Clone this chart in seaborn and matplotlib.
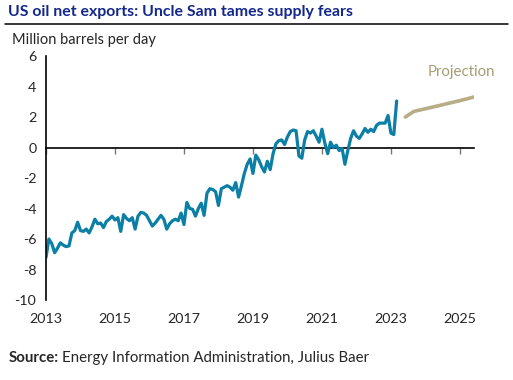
import matplotlib
matplotlib.use("Agg")
import matplotlib.pyplot as plt
import numpy as np
import pandas as pd
import seaborn as sns

# Monthly US oil net exports, Jan 2013 - Mar 2023 (million barrels per day)
net_exports = [
    -7.2, -6.0, -6.3, -6.9, -6.6, -6.25, -6.4, -6.5, -6.45, -5.6, -5.45, -4.9,
    -5.45, -5.5, -5.35, -5.6, -5.2, -4.7, -5.0, -4.95, -5.25, -4.85, -4.7, -4.5,
    -4.75, -4.6, -5.5, -4.4, -4.65, -4.8, -4.6, -5.35, -4.5, -4.25, -4.3, -4.45,
    -4.8, -5.15, -4.95, -4.7, -4.45, -4.7, -5.35, -5.0, -4.8, -4.7, -4.8, -4.3,
    -5.05, -3.6, -4.0, -4.05, -4.5, -4.0, -3.65, -4.45, -3.0, -2.7, -2.75, -2.9,
    -3.8, -2.7, -2.6, -2.5, -2.6, -2.8, -2.3, -3.25, -2.5, -1.7, -1.1, -0.75,
    -1.7, -0.5, -0.8, -1.25, -1.6, -0.9, -1.45, -0.4, 0.25, 0.45, 0.5, 0.2,
    0.7, 1.05, 1.15, 1.1, -0.55, -0.7, 0.5, 1.05, 0.95, 1.1, 0.75, 0.35,
    1.2, 0.3, -0.4, 0.35, 0.0, 0.15, -0.2, -0.05, -1.1, -0.2, 0.6, 1.1,
    0.75, 0.6, 0.9, 1.25, 1.0, 1.2, 1.05, 1.45, 1.6, 1.6, 1.6, 2.1,
    0.95, 0.85, 3.05,
]
# Projection, quarterly from Jun 2023
projection = [2.0, 2.37, 2.5, 2.63, 2.76, 2.9, 3.03, 3.17, 3.32]

hist = pd.DataFrame({
    "year": 2013 + np.arange(len(net_exports)) / 12,
    "value": net_exports,
})
proj = pd.DataFrame({
    "year": 2023 + 5 / 12 + np.arange(len(projection)) * 3 / 12,
    "value": projection,
})

year_ticks = [2013, 2015, 2017, 2019, 2021, 2023, 2025]
value_ticks = [6, 4, 2, 0, -2, -4, -6, -8, -10]

sns.set_style("white")
plt.rcParams["font.family"] = ["Lato", "DejaVu Sans"]

fig = plt.figure(figsize=(5.13, 3.8), dpi=100)
ax = fig.add_axes([0.0897, 0.2105, 0.835, 0.642])

sns.lineplot(data=hist, x="year", y="value", ax=ax, color="#0b7fa5", lw=2.3)
sns.lineplot(data=proj, x="year", y="value", ax=ax, color="#b8ad87", lw=2.6)

ax.set_xlim(2013, 2025.42)
ax.set_ylim(-10, 6)
ax.set_xticks(year_ticks)
ax.set_xticklabels([str(y) for y in year_ticks], fontsize=10.3)
ax.set_yticks(value_ticks)
ax.set_yticklabels([str(v) for v in value_ticks], fontsize=10.3)
ax.tick_params(axis="x", length=0, pad=9)
ax.tick_params(axis="y", length=4, width=1, color="black", direction="out", pad=3)
for side in ["top", "right", "bottom"]:
    ax.spines[side].set_visible(False)
ax.spines["left"].set_color("black")
ax.spines["left"].set_linewidth(1.2)
ax.set_xlabel("")
ax.set_ylabel("")

# zero line with its own tick marks
zero_axis = ax.secondary_xaxis(0.625)
zero_axis.set_alignment("bottom")
zero_axis.set_xticks(year_ticks)
zero_axis.tick_params(axis="x", length=4, width=1, color="#777777",
                      direction="out", labelbottom=False, labeltop=False)
zero_axis.spines["bottom"].set_color("black")
zero_axis.spines["bottom"].set_linewidth(1.2)

ax.text(2025.05, 4.98, "Projection", color="#a89d72", fontsize=10.8,
        ha="center", va="center")

fig.text(0.016, 0.968, "US oil net exports: Uncle Sam tames supply fears",
         fontsize=11.4, fontweight="bold", color="#13288a", va="center")
fig.add_artist(plt.Line2D([0.01, 0.99], [0.936, 0.936], color="black", lw=1.1,
                          transform=fig.transFigure))
fig.text(0.023, 0.895, "Million barrels per day", fontsize=10.5, va="center")
src = fig.text(0.016, 0.057, "Source:", fontsize=10.8, fontweight="bold",
               va="center")
fig.canvas.draw()
bb = src.get_window_extent().transformed(fig.transFigure.inverted())
fig.text(bb.x1 + 0.008, 0.057, "Energy Information Administration, Julius Baer",
         fontsize=10.8, va="center")

fig.savefig("out.png", dpi=100)
